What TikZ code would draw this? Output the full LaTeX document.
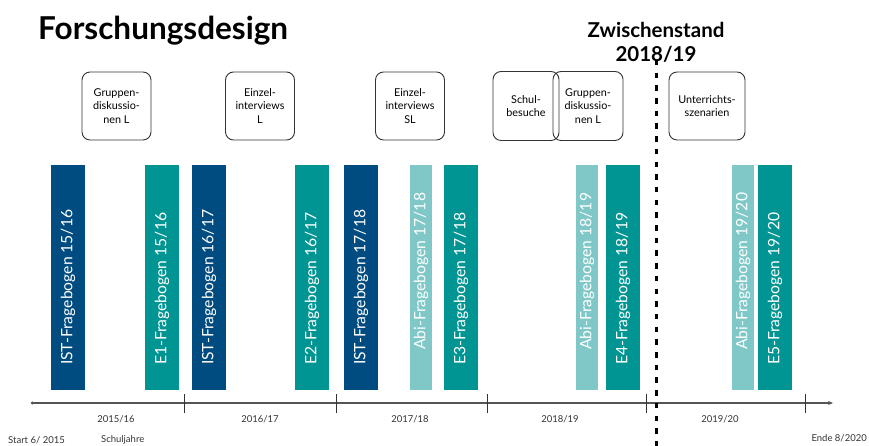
\documentclass[tikz,border=0pt]{standalone}
\usepackage{fontspec}
\setmainfont{Lato}
\usetikzlibrary{positioning,arrows.meta}
\definecolor{istblue}{RGB}{0,75,127}
\definecolor{eteal}{RGB}{0,148,146}
\definecolor{abiteal}{RGB}{128,200,200}
\definecolor{axisgray}{RGB}{85,85,85}
\tikzset{>=latex,
  bar/.style={rectangle, minimum width=34pt, minimum height=225pt, inner sep=0pt},
  thinbar/.style={bar, minimum width=22pt},
  barlabel/.style={rotate=90, anchor=west, inner sep=0pt, text=white, font=\fontsize{15.7}{19}\selectfont},
  method/.style={draw=black!80, line width=0.9pt, rounded corners=8pt, align=center, inner sep=0pt, minimum width=69pt, minimum height=68pt, font=\fontsize{10.8}{13.5}\selectfont},
  year/.style={inner sep=0pt, text=black!80, font=\fontsize{9.5}{11}\selectfont}
}
\begin{document}
\begin{tikzpicture}[x=1pt,y=1pt]
      \useasboundingbox (0,0) rectangle (869,446);
      \node[anchor=base west, inner sep=0pt, font=\bfseries\fontsize{31.5}{36}\selectfont] (title) at (38,406) {Forschungsdesign};
      \node[align=center, inner sep=0pt, font=\bfseries\fontsize{20.5}{24}\selectfont] (mid) at (656,404) {Zwischenstand\\2018/19};
      % Methoden oben
      \node[method] (m1) at (116.5,340) {Gruppen-\\diskussio-\\nen L};
      \node[method, right of=m1, node distance=143.5pt] (m2) {Einzel-\\interviews\\L};
      \node[method, right of=m2, node distance=150pt] (m3) {Einzel-\\interviews\\SL};
      \node[method, right of=m3, node distance=116pt, minimum width=66pt, minimum height=69pt] (m4) {Schul-\\besuche};
      \node[method, right of=m4, node distance=62pt, minimum width=70pt, minimum height=69pt] (m5) {Gruppen-\\diskussio-\\nen L};
      \node[method, right of=m5, node distance=119pt, minimum width=76pt] (m6) {Unterrichts-\\szenarien};
      % Frageboegen
      \node[bar, fill=istblue] (n1) at (68,168.5) {};
      \node[bar, fill=eteal, right of=n1, node distance=94pt] (n2) {};
      \node[bar, fill=istblue, right of=n2, node distance=47pt] (n3) {};
      \node[bar, fill=eteal, right of=n3, node distance=103pt] (n4) {};
      \node[bar, fill=istblue, right of=n4, node distance=49pt] (n5) {};
      \node[thinbar, fill=abiteal, right of=n5, node distance=60pt] (n6) {};
      \node[bar, fill=eteal, right of=n6, node distance=40pt] (n7) {};
      \node[thinbar, fill=abiteal, right of=n7, node distance=126pt] (n8) {};
      \node[bar, fill=eteal, right of=n8, node distance=36pt] (n9) {};
      \node[thinbar, fill=abiteal, right of=n9, node distance=120pt] (n10) {};
      \node[bar, fill=eteal, right of=n10, node distance=32pt] (n11) {};
      \node[barlabel] (l1) at ([yshift=25pt]n1.south) {IST-Fragebogen 15/16};
      \node[barlabel] (l2) at ([yshift=25pt]n2.south) {E1-Fragebogen 15/16};
      \node[barlabel] (l3) at ([yshift=25pt]n3.south) {IST-Fragebogen 16/17};
      \node[barlabel] (l4) at ([yshift=25pt]n4.south) {E2-Fragebogen 16/17};
      \node[barlabel] (l5) at ([yshift=25pt]n5.south) {IST-Fragebogen 17/18};
      \node[barlabel] (l6) at ([yshift=40pt]n6.south) {Abi-Fragebogen 17/18};
      \node[barlabel] (l7) at ([yshift=25pt]n7.south) {E3-Fragebogen 17/18};
      \node[barlabel] (l8) at ([yshift=40pt]n8.south) {Abi-Fragebogen 18/19};
      \node[barlabel] (l9) at ([yshift=25pt]n9.south) {E4-Fragebogen 18/19};
      \node[barlabel] (l10) at ([yshift=40pt]n10.south) {Abi-Fragebogen 19/20};
      \node[barlabel] (l11) at ([yshift=25pt]n11.south) {E5-Fragebogen 19/20};
      % Zeitachse
      \coordinate (ax0) at (31,43);
      \coordinate (ax1) at (833,43);
      \draw[axisgray, line width=1.4pt, {Circle[length=2.5pt]}-{Stealth[length=5pt,width=4pt]}] (ax0) -- (ax1);
      \foreach \x in {184,336,487,646,805}
        \draw[black!80, line width=0.9pt] (\x,52) -- (\x,33);
      \node[year] (y1) at (116,27) {2015/16};
      \node[year] (y2) at (260,27) {2016/17};
      \node[year] (y3) at (410,27) {2017/18};
      \node[year] (y4) at (560,27) {2018/19};
      \node[year] (y5) at (720,27) {2019/20};
      \node[year, anchor=west] (start) at (8,6) {Start 6/ 2015};
      \node[year, anchor=west] (sj) at (101,6) {Schuljahre};
      \node[year, anchor=east] (ende) at (867,8) {Ende 8/2020};
      % Zwischenstand
      \coordinate (cut0) at (656,386);
      \coordinate (cut1) at (656,0);
      \draw[line width=3pt, dash pattern=on 5.5pt off 7.2pt] (cut0) -- (cut1);
    \end{tikzpicture}
\end{document}
